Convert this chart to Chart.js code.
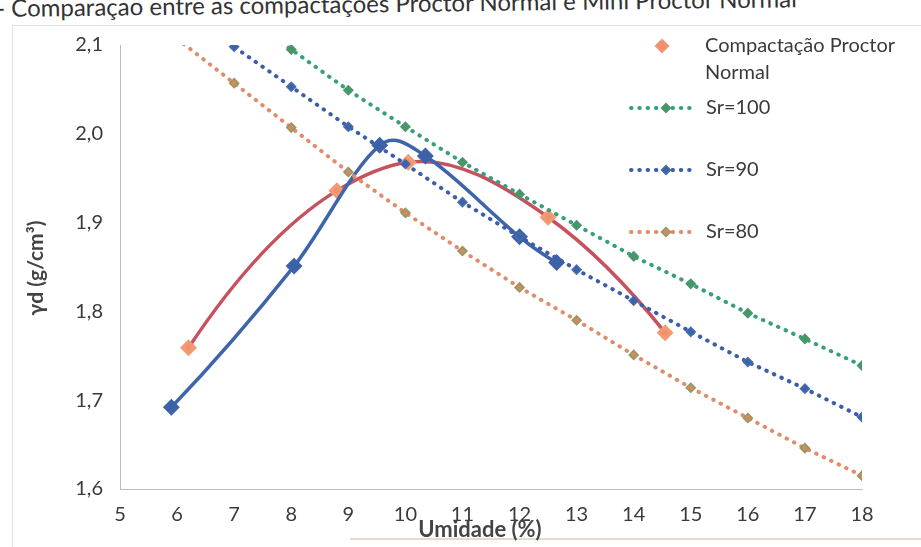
<!DOCTYPE html>
<html lang="pt">
<head>
    <meta charset="UTF-8">
    <title>Proctor Normal x Mini Proctor</title>
    <script src="https://cdn.jsdelivr.net/npm/chart.js"></script>
    <style>
        body {
            margin: 0;
            padding: 0;
            background: #fff;
            overflow: hidden;
        }
        .wrap {
            position: relative;
            width: 921px;
            height: 547px;
        }
        .page-title {
            position: absolute;
            left: -4px;
            top: -7px;
            font-family: Lato, sans-serif;
            font-size: 24px;
            color: #333;
            white-space: nowrap;
            transform: rotate(-0.7deg);
            transform-origin: left top;
        }
        .frame {
            position: absolute;
            left: 12px;
            top: 25px;
            width: 930px;
            height: 600px;
            border-left: 1px solid #e2e2e2;
            border-top: 1px solid #e2e2e2;
        }
        .edge {
            position: absolute;
            left: 350px;
            top: 538px;
            width: 580px;
            height: 2px;
            background: #ead8c8;
        }
        canvas {
            position: absolute;
            left: 0;
            top: 0;
        }
    </style>
</head>
<body>
<div class="wrap">
    <div class="frame"></div>
    <div class="edge"></div>
    <div class="page-title">- Comparaçao entre as compactações Proctor Normal e Mini Proctor Normal</div>
    <canvas id="chart" width="921" height="547"></canvas>
</div>

<script>
    // Compactação Proctor Normal
    const proctorUmidade = [6.2, 8.8, 10.05, 12.5, 14.55];
    const proctorGd = [1.759, 1.936, 1.968, 1.906, 1.776];

    // Mini Proctor (curva azul, sem entrada na legenda)
    const miniUmidade = [5.9, 8.05, 9.55, 10.35, 12.0, 12.65];
    const miniGd = [1.692, 1.851, 1.987, 1.975, 1.884, 1.855];

    // curvas de saturação
    const srUmidade = [6, 7, 8, 9, 10, 11, 12, 13, 14, 15, 16, 17, 18];
    const sr100 = [null, 2.14, 2.095, 2.049, 2.008, 1.968, 1.932, 1.897, 1.862, 1.831, 1.798, 1.769, 1.739];
    const sr90 = [2.15, 2.098, 2.053, 2.008, 1.966, 1.923, 1.884, 1.847, 1.812, 1.777, 1.743, 1.713, 1.681];
    const sr80 = [2.107, 2.057, 2.007, 1.957, 1.911, 1.868, 1.827, 1.79, 1.751, 1.714, 1.68, 1.646, 1.615];

    const yTicks = [1.6, 1.7, 1.8, 1.9, 2.0, 2.1];

    const toPoints = (xs, ys) => xs.map((x, i) => ({ x: x, y: ys[i] }));

    const FONT = 'Lato, sans-serif';
    const TEXT = '#3a3a3a';

    function srDataset(label, ys, lineColor, markBg, markBorder) {
        return {
            label: label,
            data: toPoints(srUmidade, ys),
            showLine: true,
            borderColor: lineColor,
            borderWidth: 4,
            borderDash: [0.5, 7.8],
            borderCapStyle: 'round',
            pointStyle: 'rectRot',
            pointRadius: 4.5,
            pointBackgroundColor: markBg,
            pointBorderColor: markBorder,
            pointBorderWidth: 1.5,
            tension: 0
        };
    }

    const datasets = [
        srDataset('Sr=100', sr100, '#35a07a', '#3f9a68', '#52946c'),
        srDataset('Sr=90', sr90, '#3b5fa6', '#3c62a8', '#4a6cae'),
        srDataset('Sr=80', sr80, '#e08d6c', '#d48a60', '#8d9a62'),
        {
            label: 'Mini Proctor',
            data: toPoints(miniUmidade, miniGd),
            showLine: true,
            smooth: 'cr',
            borderColor: '#3e65a9',
            borderWidth: 3.5,
            tension: 0.4,
            pointStyle: 'rectRot',
            pointRadius: 6,
            pointBackgroundColor: '#3c62a8',
            pointBorderColor: '#3c62a8'
        },
        {
            label: 'Compactação Proctor Normal',
            data: toPoints(proctorUmidade, proctorGd),
            showLine: true,
            smooth: 'bessel',
            borderColor: '#c5525e',
            borderWidth: 3.5,
            tension: 0.4,
            pointStyle: 'rectRot',
            pointRadius: 6,
            pointBackgroundColor: '#f0916c',
            pointBorderColor: '#f29a74'
        }
    ];

    // suavização parecida com a do Excel (tangentes em x, extremidades parabólicas)
    const excelSmooth = {
        id: 'excelSmooth',
        beforeDatasetDraw(chart, args) {
            const mode = chart.data.datasets[args.index].smooth;
            if (!mode) return;
            const line = args.meta.dataset;
            line.updateControlPoints(chart.chartArea, 'x');
            const pts = args.meta.data;
            const n = pts.length;
            if (n < 3) return;
            const h = [], s = [];
            for (let i = 0; i < n - 1; i++) {
                h.push(pts[i + 1].x - pts[i].x);
                s.push((pts[i + 1].y - pts[i].y) / h[i]);
            }
            const m = new Array(n);
            for (let i = 1; i < n - 1; i++) {
                if (mode === 'bessel') {
                    m[i] = (h[i] * s[i - 1] + h[i - 1] * s[i]) / (h[i - 1] + h[i]);
                } else {
                    m[i] = (pts[i + 1].y - pts[i - 1].y) / (pts[i + 1].x - pts[i - 1].x);
                }
            }
            m[0] = 2 * s[0] - m[1];
            m[n - 1] = 2 * s[n - 2] - m[n - 2];
            for (let i = 0; i < n; i++) {
                const p = pts[i];
                if (i > 0) {
                    p.cp1x = p.x - h[i - 1] / 3;
                    p.cp1y = p.y - m[i] * h[i - 1] / 3;
                }
                if (i < n - 1) {
                    p.cp2x = p.x + h[i] / 3;
                    p.cp2y = p.y + m[i] * h[i] / 3;
                }
            }
            line._path = undefined;
        }
    };

    // legenda e títulos dos eixos desenhados à mão (a legenda fica sobre a área do gráfico)
    const extras = {
        id: 'extras',
        afterDraw(chart) {
            const ctx = chart.ctx;
            ctx.save();

            // eixo y
            ctx.fillStyle = '#444';
            ctx.font = 'bold 21px ' + FONT;
            ctx.textAlign = 'center';
            ctx.textBaseline = 'middle';
            ctx.save();
            ctx.translate(36, 268);
            ctx.rotate(-Math.PI / 2);
            ctx.fillText('γd (g/cm³)', 0, 0);
            ctx.restore();

            // eixo x
            ctx.font = 'bold 22px ' + FONT;
            ctx.fillText('Umidade (%)', 480, 530);

            // legenda
            ctx.font = '20px ' + FONT;
            ctx.textAlign = 'left';
            ctx.fillStyle = TEXT;
            const diamond = (cx, cy, r, fill, stroke) => {
                ctx.beginPath();
                ctx.moveTo(cx, cy - r);
                ctx.lineTo(cx + r, cy);
                ctx.lineTo(cx, cy + r);
                ctx.lineTo(cx - r, cy);
                ctx.closePath();
                ctx.fillStyle = fill;
                ctx.fill();
                ctx.strokeStyle = stroke;
                ctx.lineWidth = 1.5;
                ctx.stroke();
            };

            diamond(662, 46, 6.5, '#f0916c', '#f29a74');
            ctx.fillStyle = TEXT;
            ctx.fillText('Compactação Proctor', 705, 46);
            ctx.fillText('Normal', 705, 73);

            const rows = [
                { ds: datasets[0], y: 108 },
                { ds: datasets[1], y: 170 },
                { ds: datasets[2], y: 232 }
            ];
            rows.forEach(r => {
                ctx.save();
                ctx.strokeStyle = r.ds.borderColor;
                ctx.lineWidth = 4;
                ctx.lineCap = 'round';
                ctx.setLineDash([0.5, 7.8]);
                ctx.beginPath();
                ctx.moveTo(631, r.y);
                ctx.lineTo(696, r.y);
                ctx.stroke();
                ctx.restore();
                diamond(666, r.y, 4.5, r.ds.pointBackgroundColor, r.ds.pointBorderColor);
                ctx.fillStyle = TEXT;
                ctx.fillText(r.ds.label, 706, r.y);
            });

            ctx.restore();
        }
    };

    new Chart(document.getElementById('chart').getContext('2d'), {
        type: 'scatter',
        data: { datasets: datasets },
        plugins: [excelSmooth, extras],
        options: {
            responsive: false,
            animation: false,
            layout: { padding: { top: 45, right: 59, left: 0, bottom: 0 } },
            plugins: {
                legend: { display: false },
                tooltip: { enabled: false }
            },
            scales: {
                x: {
                    type: 'linear',
                    min: 5,
                    max: 18,
                    grid: { display: false },
                    border: { display: true, color: '#bdbdbd', width: 1 },
                    ticks: {
                        stepSize: 1,
                        padding: 6,
                        color: TEXT,
                        font: { family: FONT, size: 20 }
                    },
                    afterFit(scale) { scale.height = 58; }
                },
                y: {
                    type: 'linear',
                    min: yTicks[0],
                    max: yTicks[yTicks.length - 1],
                    grid: { display: false },
                    border: { display: true, color: '#bdbdbd', width: 1 },
                    afterBuildTicks(scale) {
                        scale.ticks = yTicks.map(v => ({ value: v }));
                    },
                    ticks: {
                        padding: 9,
                        color: TEXT,
                        font: { family: FONT, size: 20 },
                        callback: v => v.toFixed(1).replace('.', ',')
                    },
                    afterFit(scale) { scale.width = 120; }
                }
            }
        }
    });
</script>
</body>
</html>
